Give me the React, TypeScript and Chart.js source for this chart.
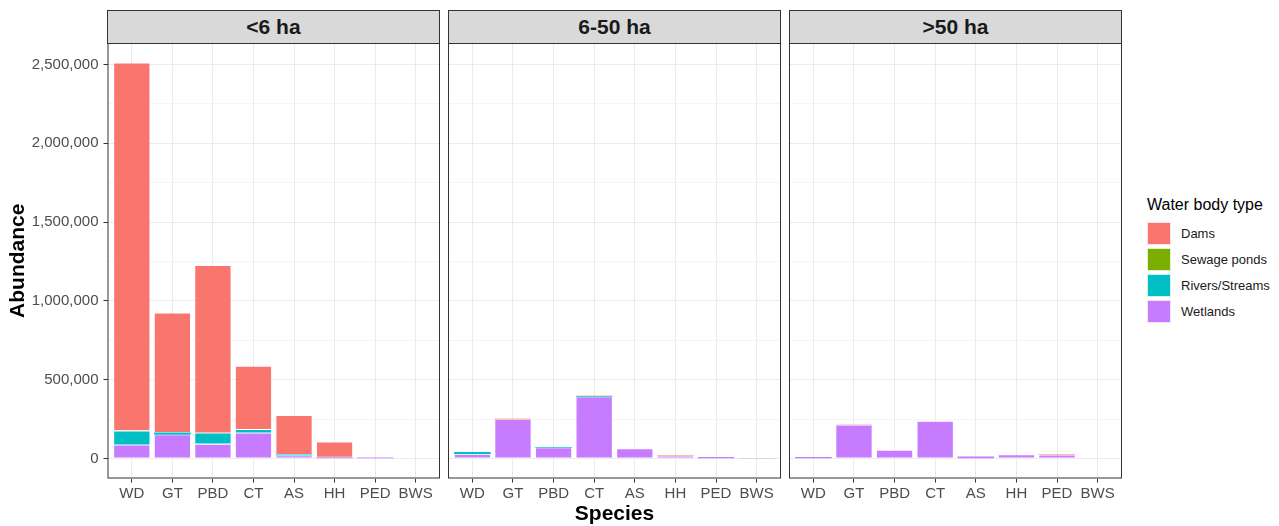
import React, { useEffect, useRef } from "react";
import { Chart, registerables } from "chart.js";

Chart.register(...registerables);

const species = ["WD", "GT", "PBD", "CT", "AS", "HH", "PED", "BWS"];
const facets = ["<6 ha", "6-50 ha", ">50 ha"];
const waterTypes = ["Dams", "Sewage ponds", "Rivers/Streams", "Wetlands"];
const typeColors = ["#F8766D", "#7CAE00", "#00BFC4", "#C77CFF"];
const yTicks = [0, 250000, 500000, 750000, 1000000, 1250000, 1500000, 1750000, 2000000, 2250000, 2500000];

// <6 ha
const small_dams = [2333000, 758000, 1063000, 402000, 248000, 97000, 0, 0];
const small_sewage = [0, 0, 0, 0, 0, 0, 0, 0];
const small_rivers = [90000, 14000, 70000, 22000, 6000, 1000, 0, 0];
const small_wetlands = [87000, 152000, 93000, 163000, 20000, 8000, 7000, 3000];

// 6-50 ha
const mid_dams = [0, 4000, 0, 0, 0, 3000, 0, 0];
const mid_sewage = [0, 0, 0, 2000, 0, 0, 0, 0];
const mid_rivers = [14000, 0, 4000, 4000, 0, 0, 0, 0];
const mid_wetlands = [28000, 249000, 70000, 393000, 63000, 17000, 11000, 4000];

// >50 ha
const large_dams = [0, 2000, 0, 0, 0, 0, 2000, 0];
const large_sewage = [0, 0, 0, 0, 0, 0, 0, 0];
const large_rivers = [0, 0, 0, 0, 0, 0, 0, 0];
const large_wetlands = [11000, 215000, 55000, 238000, 14000, 25000, 24000, 3000];

const panelSeries = [
  [small_dams, small_sewage, small_rivers, small_wetlands],
  [mid_dams, mid_sewage, mid_rivers, mid_wetlands],
  [large_dams, large_sewage, large_rivers, large_wetlands],
];

const FONT = "'Liberation Sans', Arial, Helvetica, sans-serif";
const Y_MIN = -125500;
const Y_MAX = 2635500;

const framePlugin = {
  id: "frame",
  afterDraw(chart: any) {
    const { ctx, chartArea } = chart;
    ctx.save();
    ctx.strokeStyle = "#333333";
    ctx.lineWidth = 1;
    ctx.strokeRect(chartArea.left + 0.5, chartArea.top + 0.5, chartArea.right - chartArea.left - 1, chartArea.bottom - chartArea.top - 1);
    ctx.restore();
  },
};

function buildConfig(series: number[][], showY: boolean): any {
  // stacking order: Wetlands at bottom, Dams on top
  const order = [3, 2, 1, 0];
  const datasets = order.map((i) => ({
    label: waterTypes[i],
    data: series[i].map((v, k) => ({ x: k + 1, y: v })),
    backgroundColor: typeColors[i],
    borderColor: "rgba(255,255,255,0.7)",
    borderWidth: (c: any) => (c.raw && c.raw.y > 15000 ? 0.6 : 0),
    borderSkipped: false,
    barPercentage: 0.9,
    categoryPercentage: 1,
  }));
  return {
    type: "bar",
    data: { datasets },
    plugins: [framePlugin],
    options: {
      animation: false,
      responsive: false,
      maintainAspectRatio: false,
      layout: { padding: 0 },
      plugins: { legend: { display: false }, tooltip: { enabled: false }, title: { display: false } },
      scales: {
        x: {
          type: "linear",
          stacked: true,
          min: 0.4,
          max: 8.6,
          offset: false,
          afterBuildTicks: (scale: any) => {
            scale.ticks = species.map((_, i) => ({ value: i + 1 }));
          },
          afterFit: (scale: any) => {
            scale.height = 27.5;
            scale.paddingLeft = 0;
            scale.paddingRight = 0;
          },
          border: { display: false },
          grid: { offset: false, color: "#EBEBEB", lineWidth: 1, drawTicks: true, tickLength: 4, tickColor: "#333333" },
          ticks: {
            autoSkip: false,
            maxRotation: 0,
            padding: 2,
            color: "#4D4D4D",
            font: { family: FONT, size: 15 },
            callback: (v: any) => species[Math.round(v) - 1] ?? "",
          },
        },
        y: {
          type: "linear",
          stacked: true,
          min: Y_MIN,
          max: Y_MAX,
          afterBuildTicks: (scale: any) => {
            scale.ticks = yTicks.map((v) => ({ value: v }));
          },
          afterFit: (scale: any) => {
            scale.width = showY ? 107.5 : 0;
            scale.paddingTop = 0;
            scale.paddingBottom = 0;
          },
          border: { display: false },
          grid: {
            color: (c: any) => (c.tick && c.tick.value % 500000 === 0 ? "#EBEBEB" : "#F5F5F5"),
            lineWidth: 1,
            drawTicks: showY,
            tickLength: 4,
            tickColor: (c: any) => (c.tick && c.tick.value % 500000 === 0 ? "#333333" : "rgba(0,0,0,0)"),
          },
          ticks: {
            display: showY,
            padding: 5,
            color: "#4D4D4D",
            font: { family: FONT, size: 15 },
            callback: (v: any) => (v % 500000 === 0 ? Number(v).toLocaleString("en-US") : ""),
          },
          title: {
            display: showY,
            text: "Abundance",
            color: "#000000",
            font: { family: FONT, size: 21, weight: "bold" },
            padding: { top: 5.5, bottom: 0 },
          },
        },
      },
    },
  };
}

const panelBoxes = [
  { canvasLeft: 0, canvasWidth: 440, stripLeft: 107, showY: true },
  { canvasLeft: 448, canvasWidth: 333, stripLeft: 448, showY: false },
  { canvasLeft: 789, canvasWidth: 333, stripLeft: 789, showY: false },
];

export default function App() {
  const refs = [useRef<HTMLCanvasElement>(null), useRef<HTMLCanvasElement>(null), useRef<HTMLCanvasElement>(null)];

  useEffect(() => {
    const charts = refs.map((r, i) => new Chart(r.current as HTMLCanvasElement, buildConfig(panelSeries[i], panelBoxes[i].showY)));
    return () => charts.forEach((c) => c.destroy());
  }, []);

  return (
    <div style={{ position: "absolute", left: 0, top: 0, width: 1279, height: 526, background: "#FFFFFF", fontFamily: FONT, overflow: "hidden" }}>
      {panelBoxes.map((p, i) => (
        <React.Fragment key={i}>
          <div
            style={{
              position: "absolute",
              left: p.stripLeft,
              top: 10,
              width: 333,
              height: 34,
              boxSizing: "border-box",
              background: "#D9D9D9",
              border: "1px solid #333333",
              display: "flex",
              alignItems: "center",
              justifyContent: "center",
              fontWeight: "bold",
              fontSize: 21,
              color: "#1A1A1A",
            }}
          >
            {facets[i]}
          </div>
          <canvas
            ref={refs[i]}
            width={p.canvasWidth}
            height={463}
            style={{ position: "absolute", left: p.canvasLeft, top: 43, width: p.canvasWidth, height: 463 }}
          />
        </React.Fragment>
      ))}
      <div style={{ position: "absolute", left: 107, width: 1015, top: 500, textAlign: "center", fontWeight: "bold", fontSize: 21, color: "#000000", lineHeight: "26px" }}>
        Species
      </div>
      <div style={{ position: "absolute", left: 1147, top: 195, fontSize: 16, color: "#000000", lineHeight: "20px", whiteSpace: "nowrap" }}>
        Water body type
      </div>
      {waterTypes.map((t, i) => (
        <React.Fragment key={t}>
          <div
            style={{
              position: "absolute",
              left: 1147,
              top: 222 + i * 26,
              width: 24,
              height: 23,
              boxSizing: "border-box",
              background: typeColors[i],
              border: "1px solid rgba(255,255,255,0.8)",
            }}
          />
          <div style={{ position: "absolute", left: 1181, top: 222 + i * 26, height: 23, lineHeight: "23px", fontSize: 13, color: "#1A1A1A", whiteSpace: "nowrap" }}>
            {t}
          </div>
        </React.Fragment>
      ))}
    </div>
  );
}
